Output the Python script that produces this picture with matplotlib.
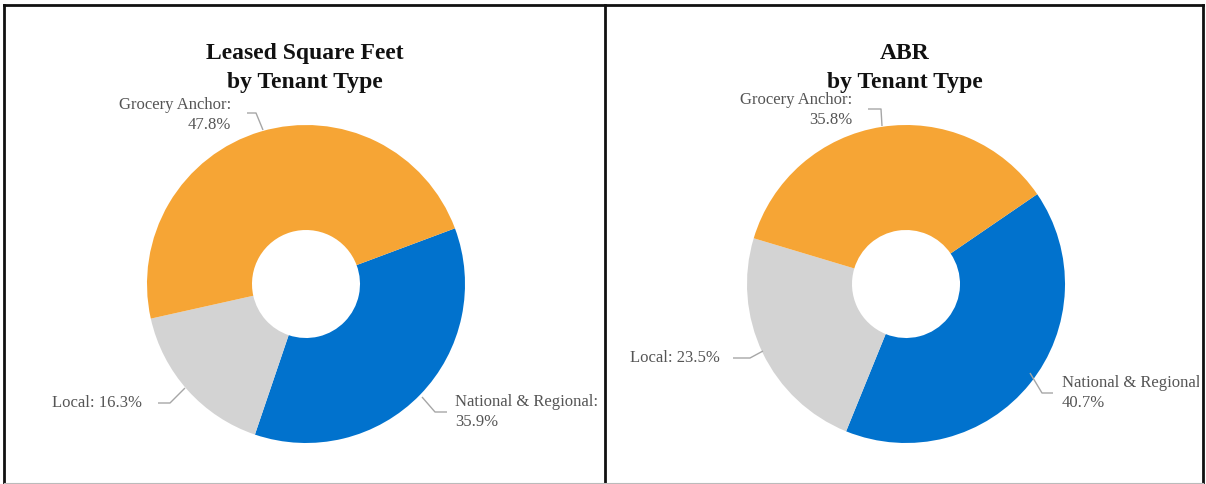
import matplotlib
matplotlib.use("Agg")
import matplotlib.pyplot as plt
from matplotlib.patches import Rectangle

# ---- data ----
categories = ["National & Regional", "Local", "Grocery Anchor"]
sqft_share = [35.9, 16.3, 47.8]
abr_share = [40.7, 23.5, 35.8]
titles = ["Leased Square Feet\nby Tenant Type", "ABR\nby Tenant Type"]

colors = ["#0172CD", "#D3D3D3", "#F6A535"]
label_color = "#555555"

W, H = 1206, 484
fig = plt.figure(figsize=(W / 100, H / 100), dpi=100)
ax = fig.add_axes([0, 0, 1, 1])


def Y(y):
    """Convert a top-down pixel row into the axes' bottom-up coordinate."""
    return H - y


# ---- layout of each panel (pixel units, origin top-left) ----
panels = [
    dict(values=sqft_share, title=titles[0], cx=306, cy=284, start=20.5,
         title_x=305,
         labels={
             "Grocery Anchor": dict(xy=(231, 115), ha="right", two=True,
                                    leader=[(247, 113), (256, 113), (263, 130)]),
             "Local": dict(xy=(52, 403), ha="left", two=False,
                           leader=[(158, 403), (170, 403), (185, 388)]),
             "National & Regional": dict(xy=(455, 412), ha="left", two=True,
                                         leader=[(422, 397), (435, 412), (447, 412)]),
         }),
    dict(values=abr_share, title=titles[1], cx=906, cy=284, start=34.4,
         title_x=905,
         labels={
             "Grocery Anchor": dict(xy=(852, 110), ha="right", two=True,
                                    leader=[(868, 109), (881, 109), (882, 126)]),
             "Local": dict(xy=(630, 358), ha="left", two=False,
                           leader=[(733, 358), (750, 358), (763, 351)]),
             "National & Regional": dict(xy=(1062, 393), ha="left", two=True,
                                         leader=[(1030, 373), (1042, 393), (1053, 393)]),
         }),
]

R_OUT, R_IN = 159, 54
# labels running past the right frame are cut off at the frame
clip_rect = Rectangle((4, 0), 1195, H, transform=ax.transData, visible=False)
ax.add_patch(clip_rect)

for p in panels:
    ax.pie(p["values"], colors=colors, startangle=p["start"], counterclock=False,
           radius=R_OUT, center=(p["cx"], Y(p["cy"])),
           wedgeprops=dict(width=R_OUT - R_IN, linewidth=0))
    ax.text(p["title_x"], Y(68), p["title"], ha="center", va="center",
            fontsize=17, fontweight="bold", family="Liberation Serif",
            color="#111111", linespacing=1.45)
    for cat, val in zip(categories, p["values"]):
        spec = p["labels"][cat]
        sep = "\n" if spec["two"] else " "
        txt = ax.text(spec["xy"][0], Y(spec["xy"][1]), f"{cat}:{sep}{val:.1f}%",
                      ha=spec["ha"], va="center", multialignment=spec["ha"],
                      fontsize=12, family="Liberation Serif", color=label_color,
                      linespacing=1.3)
        txt.set_clip_path(clip_rect)
        txt.set_clip_on(True)
        xs = [pt[0] for pt in spec["leader"]]
        ys = [Y(pt[1]) for pt in spec["leader"]]
        ax.plot(xs, ys, color="#A6A6A6", lw=1.0, solid_capstyle="butt")

# ---- panel frames ----
frame_kw = dict(color="#111111", lw=2.0, solid_capstyle="projecting")
ax.plot([4, 1203], [Y(5), Y(5)], **frame_kw)
ax.plot([4, 4], [Y(5), Y(484)], **frame_kw)
ax.plot([1203, 1203], [Y(5), Y(484)], **frame_kw)
ax.plot([605, 605], [Y(5), Y(484)], **frame_kw)
ax.plot([4, 1203], [Y(483), Y(483)], color="#BBBBBB", lw=0.8)

ax.set_xlim(0, W)
ax.set_ylim(0, H)
ax.set_aspect("equal")
ax.axis("off")

fig.savefig("out.png", dpi=100, facecolor="white")
